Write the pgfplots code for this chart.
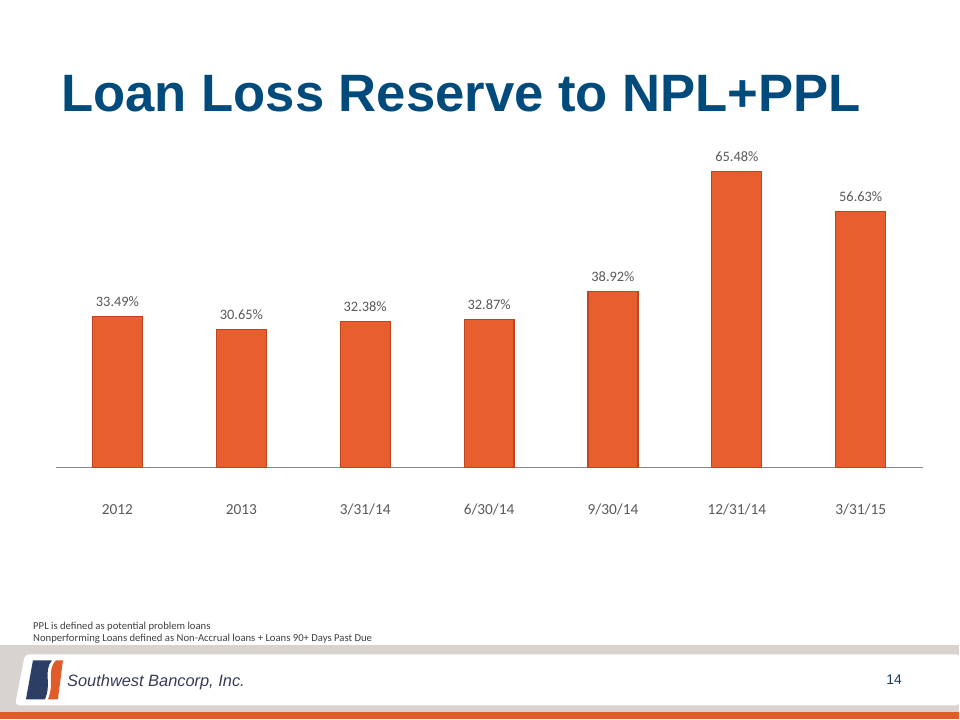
\documentclass[border=0pt]{standalone}
\usepackage{pgfplots}
\pgfplotsset{compat=1.18}
\usepackage{fontspec}
\setmainfont{Carlito}
\newfontfamily\arialfont{Liberation Sans}
\definecolor{barorange}{RGB}{232,94,46}
\definecolor{baredge}{RGB}{190,70,30}
\definecolor{titleblue}{RGB}{0,74,124}
\definecolor{labelgray}{RGB}{89,89,89}
\definecolor{notegray}{RGB}{64,64,64}
\definecolor{bandgray}{RGB}{216,211,206}
\definecolor{stripe}{RGB}{224,90,42}
\definecolor{logoblue}{RGB}{44,62,100}
\definecolor{navytext}{RGB}{55,60,90}
\definecolor{pageblue}{RGB}{31,59,90}
\definecolor{axisgray}{RGB}{134,134,134}
\begin{document}
\begin{tikzpicture}
\begin{scope}[x=0.75pt,y=-0.75pt]
\fill[white] (0,0) rectangle (960,720);
\node[anchor=base west, text=titleblue, font=\arialfont\bfseries\fontsize{39.5}{44}\selectfont, inner sep=0pt] at (61,112) {Loan Loss Reserve to NPL+PPL};
\node[anchor=base west, font=\fontsize{8}{9}\selectfont, text=notegray, inner sep=0pt] at (33,630) {PPL is defined as potential problem loans};
\node[anchor=base west, font=\fontsize{8}{9}\selectfont, text=notegray, inner sep=0pt] at (33,642) {Nonperforming Loans defined as Non-Accrual loans + Loans 90+ Days Past Due};
% footer band
\fill[bandgray] (0,646) rectangle (960,713);
\fill[stripe] (0,713) rectangle (960,720);
\fill[white, rounded corners=3pt] (25,655) -- (961,655) -- (961,706) -- (15,706) -- cycle;
% logo
\fill[logoblue] (33,661) -- (52,661) .. controls (43,672) and (52,684) .. (45,700) -- (26,700) -- cycle;
\fill[stripe] (56,661) -- (63,661) -- (58,700) -- (48,700) .. controls (55,684) and (46,672) .. cycle;
\node[anchor=base west, font=\arialfont\itshape\fontsize{12.3}{14}\selectfont, text=navytext, inner sep=0pt] at (67,687) {Southwest Bancorp, Inc.};
\node[anchor=center, font=\arialfont\fontsize{10.5}{12}\selectfont, text=pageblue, inner sep=0pt] at (895,680) {14};
\end{scope}
\begin{axis}[
  at={(41.7pt,-351pt)}, anchor=south west,
  scale only axis, width=651pt, height=237.3pt,
  xmin=-0.5, xmax=6.5, ymin=0, ymax=70,
  axis x line=bottom, axis y line=none,
  axis line style={-, draw=axisgray, line width=0.8pt},
  xtick={0,1,2,3,4,5,6},
  xticklabels={2012,2013,3/31/14,6/30/14,9/30/14,12/31/14,3/31/15},
  major tick length=0pt,
  xticklabel style={font=\fontsize{11.5}{13}\selectfont, text=labelgray, anchor=base, yshift=-35pt},
  clip=false,
]
\addplot[ybar, bar width=37.5pt, fill=barorange, draw=baredge, line width=0.9pt,
  nodes near coords, point meta=explicit symbolic,
  nodes near coords style={anchor=base, inner sep=0pt, yshift=7.5pt, font=\fontsize{10.8}{12}\selectfont, text=labelgray}]
coordinates {
(0,33.49) [33.49\%]
(1,30.65) [30.65\%]
(2,32.38) [32.38\%]
(3,32.87) [32.87\%]
(4,38.92) [38.92\%]
(5,65.48) [65.48\%]
(6,56.63) [56.63\%]
};
\end{axis}
\end{tikzpicture}
\end{document}
